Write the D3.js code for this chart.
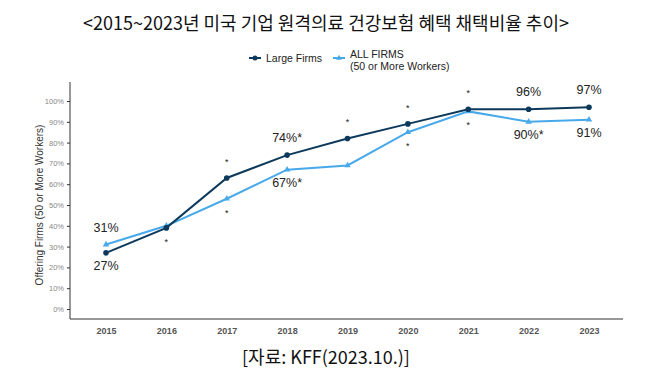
<!DOCTYPE html>
<html>
<head>
<meta charset="utf-8">
<script src="https://cdn.jsdelivr.net/npm/d3@7"></script>
<style>
  body { margin: 0; background: #fff; }
  svg { font-family: "Liberation Sans", Arial, sans-serif; }
  .title, .source { font-family: "Noto Sans CJK KR", sans-serif; }
</style>
</head>
<body>
<svg width="653" height="378"></svg>
<script>
// **** data ****
const years = [2015, 2016, 2017, 2018, 2019, 2020, 2021, 2022, 2023];
const largeFirms = [27, 39, 63, 74, 82, 89, 96, 96, 97];
const allFirms = [31, 40, 53, 67, 69, 85, 95, 90, 91];
const yTicks = [0, 10, 20, 30, 40, 50, 60, 70, 80, 90, 100];

// value labels: [yearIndex, text, above?]
const largeLabels = [[0, '27%', false], [3, '74%*', true], [7, '96%', true], [8, '97%', true]];
const allLabels = [[0, '31%', true], [3, '67%*', false], [7, '90%*', false], [8, '91%', false]];
// significance stars
const largeStars = [2, 4, 5, 6];
const allStars = [1, 2, 5, 6];

const darkColor = '#0d3a5c';
const lightColor = '#48a9ea';

// **** scales ****
const xScale = d3.scalePoint().domain(years).range([106, 589]);
const yScale = d3.scaleLinear().domain([0, 100]).range([309, 101]);

const svg = d3.select('svg');

// title
svg.append('text')
    .attr('class', 'title')
    .attr('x', 326).attr('y', 30)
    .attr('text-anchor', 'middle')
    .style('font-size', '18px')
    .attr('fill', '#111')
    .text('<2015~2023년 미국 기업 원격의료 건강보험 혜택 채택비율 추이>');

// legend
const legend = svg.append('g');
legend.append('line').attr('x1', 249).attr('x2', 261).attr('y1', 58).attr('y2', 58)
    .attr('stroke', darkColor).attr('stroke-width', 2);
legend.append('circle').attr('cx', 255).attr('cy', 58).attr('r', 2.5).attr('fill', darkColor);
legend.append('text').attr('x', 266).attr('y', 62).style('font-size', '10.5px').attr('fill', '#222')
    .text('Large Firms');
legend.append('line').attr('x1', 333).attr('x2', 345).attr('y1', 58).attr('y2', 58)
    .attr('stroke', lightColor).attr('stroke-width', 2);
legend.append('path').attr('d', d3.symbol(d3.symbolTriangle, 14)())
    .attr('transform', 'translate(339,58)').attr('fill', lightColor);
legend.append('text').attr('x', 350).attr('y', 58).style('font-size', '10.5px').attr('fill', '#222')
    .text('ALL FIRMS');
legend.append('text').attr('x', 350).attr('y', 70).style('font-size', '10.5px').attr('fill', '#222')
    .text('(50 or More Workers)');

// axes
const yAxis = svg.append('g')
    .attr('transform', 'translate(70,0)')
    .call(d3.axisLeft(yScale).tickValues(yTicks).tickSize(3).tickFormat(d => d + '%'));
yAxis.select('.domain').attr('d', 'M0,82V319').attr('stroke', '#333');
yAxis.selectAll('.tick line').attr('stroke', '#333');
yAxis.selectAll('.tick text').attr('fill', '#888').style('font-size', '7.5px');

const xAxis = svg.append('g')
    .attr('transform', 'translate(0,319)')
    .call(d3.axisBottom(xScale).tickSize(0).tickPadding(9));
xAxis.select('.domain').attr('d', 'M70,0H623').attr('stroke', '#333');
xAxis.selectAll('.tick text').attr('fill', '#555').style('font-size', '9px').style('font-weight', 'bold');

svg.append('text')
    .attr('transform', 'translate(43,205) rotate(-90)')
    .attr('text-anchor', 'middle')
    .style('font-size', '10px')
    .attr('fill', '#333')
    .text('Offering Firms (50 or More Workers)');

// lines
const line = d3.line().x((d, i) => xScale(years[i])).y(d => yScale(d));

svg.append('path').datum(allFirms)
    .attr('d', line).attr('fill', 'none').attr('stroke', lightColor).attr('stroke-width', 2);
svg.selectAll('.tri').data(allFirms).enter().append('path')
    .attr('d', d3.symbol(d3.symbolTriangle, 18)())
    .attr('transform', (d, i) => `translate(${xScale(years[i])},${yScale(d)})`)
    .attr('fill', lightColor);

svg.append('path').datum(largeFirms)
    .attr('d', line).attr('fill', 'none').attr('stroke', darkColor).attr('stroke-width', 2);
svg.selectAll('.dot').data(largeFirms).enter().append('circle')
    .attr('cx', (d, i) => xScale(years[i]))
    .attr('cy', d => yScale(d))
    .attr('r', 2.8)
    .attr('fill', darkColor);

// value labels
function addLabels(labels, values) {
    labels.forEach(([i, txt, above]) => {
        svg.append('text')
            .attr('x', xScale(years[i]))
            .attr('y', yScale(values[i]) + (above ? -13 : 17))
            .attr('text-anchor', 'middle')
            .style('font-size', '12.5px')
            .attr('fill', '#222')
            .text(txt);
    });
}
addLabels(largeLabels, largeFirms);
addLabels(allLabels, allFirms);

// stars
largeStars.forEach(i => {
    svg.append('text')
        .attr('x', xScale(years[i])).attr('y', yScale(largeFirms[i]) - 13)
        .attr('text-anchor', 'middle').style('font-size', '9px').attr('fill', '#222').text('*');
});
allStars.forEach(i => {
    svg.append('text')
        .attr('x', xScale(years[i])).attr('y', yScale(Math.min(allFirms[i], largeFirms[i])) + 17)
        .attr('text-anchor', 'middle').style('font-size', '9px').attr('fill', '#222').text('*');
});

// source
svg.append('text')
    .attr('class', 'source')
    .attr('x', 326).attr('y', 364)
    .attr('text-anchor', 'middle')
    .style('font-size', '18px')
    .attr('fill', '#111')
    .text('[자료: KFF(2023.10.)]');
</script>
</body>
</html>
